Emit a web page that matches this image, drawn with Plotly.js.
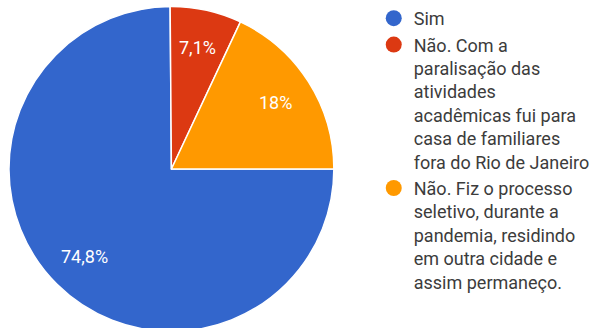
<!DOCTYPE html>
<html>
<head>
<meta charset="utf-8">
<script src="https://cdn.plot.ly/plotly-3.0.1.min.js"></script>
<style>
html,body{margin:0;padding:0;overflow:hidden;background:#fff;}
#chart{width:595px;height:338px;}
</style>
</head>
<body>
<div id="chart"></div>
<script>
const labels = [
  "Sim",
  "Não. Com a<br>paralisação das<br>atividades<br>acadêmicas fui para<br>casa de familiares<br>fora do Rio de Janeiro",
  "Não. Fiz o processo<br>seletivo, durante a<br>pandemia, residindo<br>em outra cidade e<br>assim permaneço."
];
const values = [74.8, 7.1, 18];
const colors = ["#3366cc", "#dc3912", "#ff9900"];
const texts = values.map(v => String(v).replace('.', ',') + '%');

const W = 595, H = 338;
const domX = [9 / W, 335 / W];
const domY = [0, 1];
const startRot = 90;

const pie = {
  type: 'pie',
  labels: labels,
  values: values,
  textinfo: 'none',
  marker: {colors: colors, line: {color: '#ffffff', width: 1.5}},
  sort: false,
  direction: 'clockwise',
  rotation: startRot,
  showlegend: false,
  hoverinfo: 'none',
  domain: {x: domX, y: domY}
};

const legendTraces = labels.map((l, i) => ({
  type: 'scatter',
  mode: 'markers',
  x: [null], y: [null],
  name: l,
  legendgroup: 'g' + i,
  marker: {color: colors[i], size: 16, symbol: 'circle'},
  showlegend: true,
  hoverinfo: 'none'
}));

// slice label positions from the pie geometry (mid-angle, 0.76 of radius)
const total = values.reduce((a, b) => a + b, 0);
const cxPx = (domX[0] + domX[1]) / 2 * W;
const cyPx = (1 - (domY[0] + domY[1]) / 2) * H;
const rPx = Math.min((domX[1] - domX[0]) * W, (domY[1] - domY[0]) * H) / 2;
let acc = startRot;
const annotations = values.map((v, i) => {
  const span = v / total * 360;
  const mid = (acc + span / 2) * Math.PI / 180;
  acc += span;
  const xp = cxPx + 0.76 * rPx * Math.sin(mid);
  const yp = cyPx - 0.76 * rPx * Math.cos(mid);
  return {
    xref: 'paper', yref: 'paper',
    x: xp / W, y: 1 - yp / H,
    xanchor: 'center', yanchor: 'middle',
    text: texts[i], showarrow: false,
    font: {family: 'Roboto, Arial, sans-serif', size: 18, color: '#ffffff'}
  };
});

const layout = {
  width: W,
  height: H,
  margin: {l: 0, r: 0, t: 0, b: 0},
  paper_bgcolor: '#ffffff',
  plot_bgcolor: 'rgba(0,0,0,0)',
  xaxis: {visible: false},
  yaxis: {visible: false},
  showlegend: true,
  annotations: annotations,
  legend: {
    x: 375 / W, xanchor: 'left',
    y: 1, yanchor: 'top',
    valign: 'top',
    tracegroupgap: 4,
    traceorder: 'normal',
    font: {family: 'Roboto, Arial, sans-serif', size: 18, color: '#3c3c3c'},
    bgcolor: 'rgba(0,0,0,0)',
    itemclick: false
  }
};

Plotly.newPlot('chart', [pie].concat(legendTraces), layout, {staticPlot: true, displayModeBar: false});
</script>
</body>
</html>
